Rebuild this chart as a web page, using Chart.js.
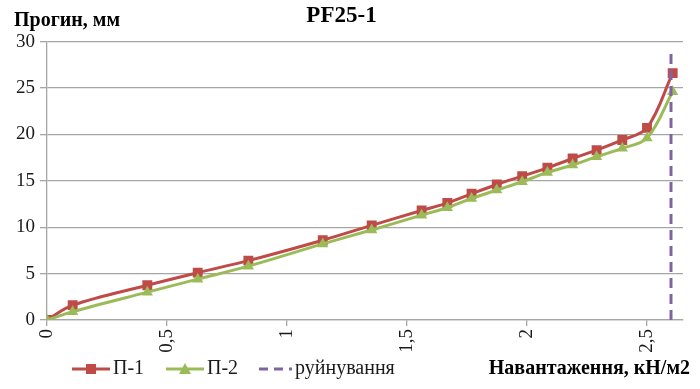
<!DOCTYPE html>
<html>
<head>
<meta charset="utf-8">
<script src="https://cdn.jsdelivr.net/npm/chart.js@4.4.0/dist/chart.umd.min.js"></script>
<style>
  body { margin: 0; background: #fff; }
  #wrap { width: 700px; height: 389px; position: relative; }
</style>
</head>
<body>
<div id="wrap"><canvas id="chartCanvas"></canvas></div>
<script>
// load, kN/m2 (x) and deflection, mm (y)
const loadKN = [0, 0.107, 0.418, 0.628, 0.839, 1.149, 1.353, 1.561, 1.668, 1.769, 1.874, 1.98, 2.085, 2.19, 2.29, 2.397, 2.5, 2.607];
const deflP1 = [0, 1.6, 3.75, 5.1, 6.4, 8.6, 10.2, 11.8, 12.6, 13.6, 14.6, 15.5, 16.4, 17.4, 18.3, 19.4, 20.7, 26.6];
const deflP2 = [0, 0.9, 3.0, 4.4, 5.8, 8.2, 9.7, 11.3, 12.1, 13.1, 14.0, 14.9, 15.9, 16.7, 17.6, 18.5, 19.6, 24.6];
// failure line
const failLoad = [2.6, 2.6];
const failDefl = [0, 29];

const seriesNames = ["П-1", "П-2", "руйнування"];
const xTicks = [0, 0.5, 1, 1.5, 2, 2.5];
const yTicks = [0, 5, 10, 15, 20, 25, 30];

const serif = '"Liberation Serif", "Times New Roman", serif';
const gridGray = '#a6a6a6';
const red = '#be4b48';
const green = '#9bbb59';
const purple = '#8064a2';

function pts(xs, ys) {
    return xs.map((x, i) => ({ x: x, y: ys[i] }));
}

// marker + line legend and the two axis captions, drawn like excel does
const extras = {
    id: 'extras',
    afterDraw(chart) {
        const ctx = chart.ctx;
        ctx.save();
        ctx.fillStyle = '#000';
        ctx.textBaseline = 'middle';
        ctx.font = 'bold 20px ' + serif;
        ctx.textAlign = 'left';
        ctx.fillText('Прогин, мм', 14, 21);
        ctx.textAlign = 'right';
        ctx.fillText('Навантаження, кН/м2', 690, 369);

        const y = 369;
        const items = [
            { x0: 72, x1: 110, color: red, marker: 'rect', dash: [] },
            { x0: 166, x1: 204, color: green, marker: 'triangle', dash: [] },
            { x0: 259, x1: 292, color: purple, marker: null, dash: [9, 6] }
        ];
        items.forEach((it, i) => {
            ctx.strokeStyle = it.color;
            ctx.fillStyle = it.color;
            ctx.lineWidth = 3;
            ctx.setLineDash(it.dash);
            ctx.beginPath();
            ctx.moveTo(it.x0, y);
            ctx.lineTo(it.x1, y);
            ctx.stroke();
            ctx.setLineDash([]);
            const cx = (it.x0 + it.x1) / 2;
            if (it.marker === 'rect') {
                ctx.fillRect(cx - 5, y - 5, 10, 10);
            } else if (it.marker === 'triangle') {
                ctx.beginPath();
                ctx.moveTo(cx, y - 6);
                ctx.lineTo(cx + 6, y + 5);
                ctx.lineTo(cx - 6, y + 5);
                ctx.closePath();
                ctx.fill();
            }
            ctx.fillStyle = '#1a1a1a';
            ctx.font = '20px ' + serif;
            ctx.textAlign = 'left';
            ctx.fillText(seriesNames[i], it.x1 + 3, y);
        });
        ctx.restore();
    }
};

const chart = new Chart(document.getElementById('chartCanvas'), {
    type: 'line',
    data: {
        datasets: [
            {
                label: seriesNames[2],
                data: pts(failLoad, failDefl),
                borderColor: purple,
                borderWidth: 3,
                borderDash: [10, 6],
                pointRadius: 0,
                tension: 0,
                order: 0
            },
            {
                label: seriesNames[1],
                data: pts(loadKN, deflP2),
                borderColor: green,
                backgroundColor: green,
                borderWidth: 3,
                pointStyle: 'triangle',
                pointRadius: 6.5,
                pointBorderWidth: 0,
                tension: 0.35,
                order: 1
            },
            {
                label: seriesNames[0],
                data: pts(loadKN, deflP1),
                borderColor: red,
                backgroundColor: red,
                borderWidth: 3,
                pointStyle: 'rect',
                pointRadius: 7,
                pointBorderWidth: 0,
                tension: 0.35,
                order: 2
            }
        ]
    },
    options: {
        responsive: true,
        maintainAspectRatio: false,
        animation: false,
        layout: { padding: { top: 0, right: 17, bottom: 0, left: 0 } },
        plugins: {
            legend: { display: false },
            tooltip: { enabled: false },
            title: {
                display: true,
                text: 'PF25-1',
                color: '#000',
                font: { family: serif, size: 23, weight: 'bold' },
                padding: { top: 2, bottom: 12 }
            }
        },
        scales: {
            x: {
                type: 'linear',
                min: 0,
                max: 2.65,
                afterFit: s => { s.height = 69; },
                afterBuildTicks: s => { s.ticks = xTicks.map(v => ({ value: v })); },
                ticks: {
                    includeBounds: false,
                    minRotation: 90,
                    maxRotation: 90,
                    padding: 3,
                    color: '#1a1a1a',
                    font: { family: serif, size: 19 },
                    callback: v => String(v).replace('.', ',')
                },
                grid: {
                    drawOnChartArea: false,
                    drawTicks: true,
                    tickLength: 6,
                    color: gridGray,
                    lineWidth: 1.3
                },
                border: { color: gridGray, width: 1.3 }
            },
            y: {
                min: 0,
                max: 30,
                afterFit: s => { s.width = 47; },
                afterBuildTicks: s => { s.ticks = yTicks.map(v => ({ value: v })); },
                ticks: {
                    padding: 5,
                    color: '#1a1a1a',
                    font: { family: serif, size: 19 }
                },
                grid: {
                    color: gridGray,
                    lineWidth: 1.3,
                    tickLength: 7
                },
                border: { color: gridGray, width: 1.3 }
            }
        }
    },
    plugins: [extras]
});
</script>
</body>
</html>
